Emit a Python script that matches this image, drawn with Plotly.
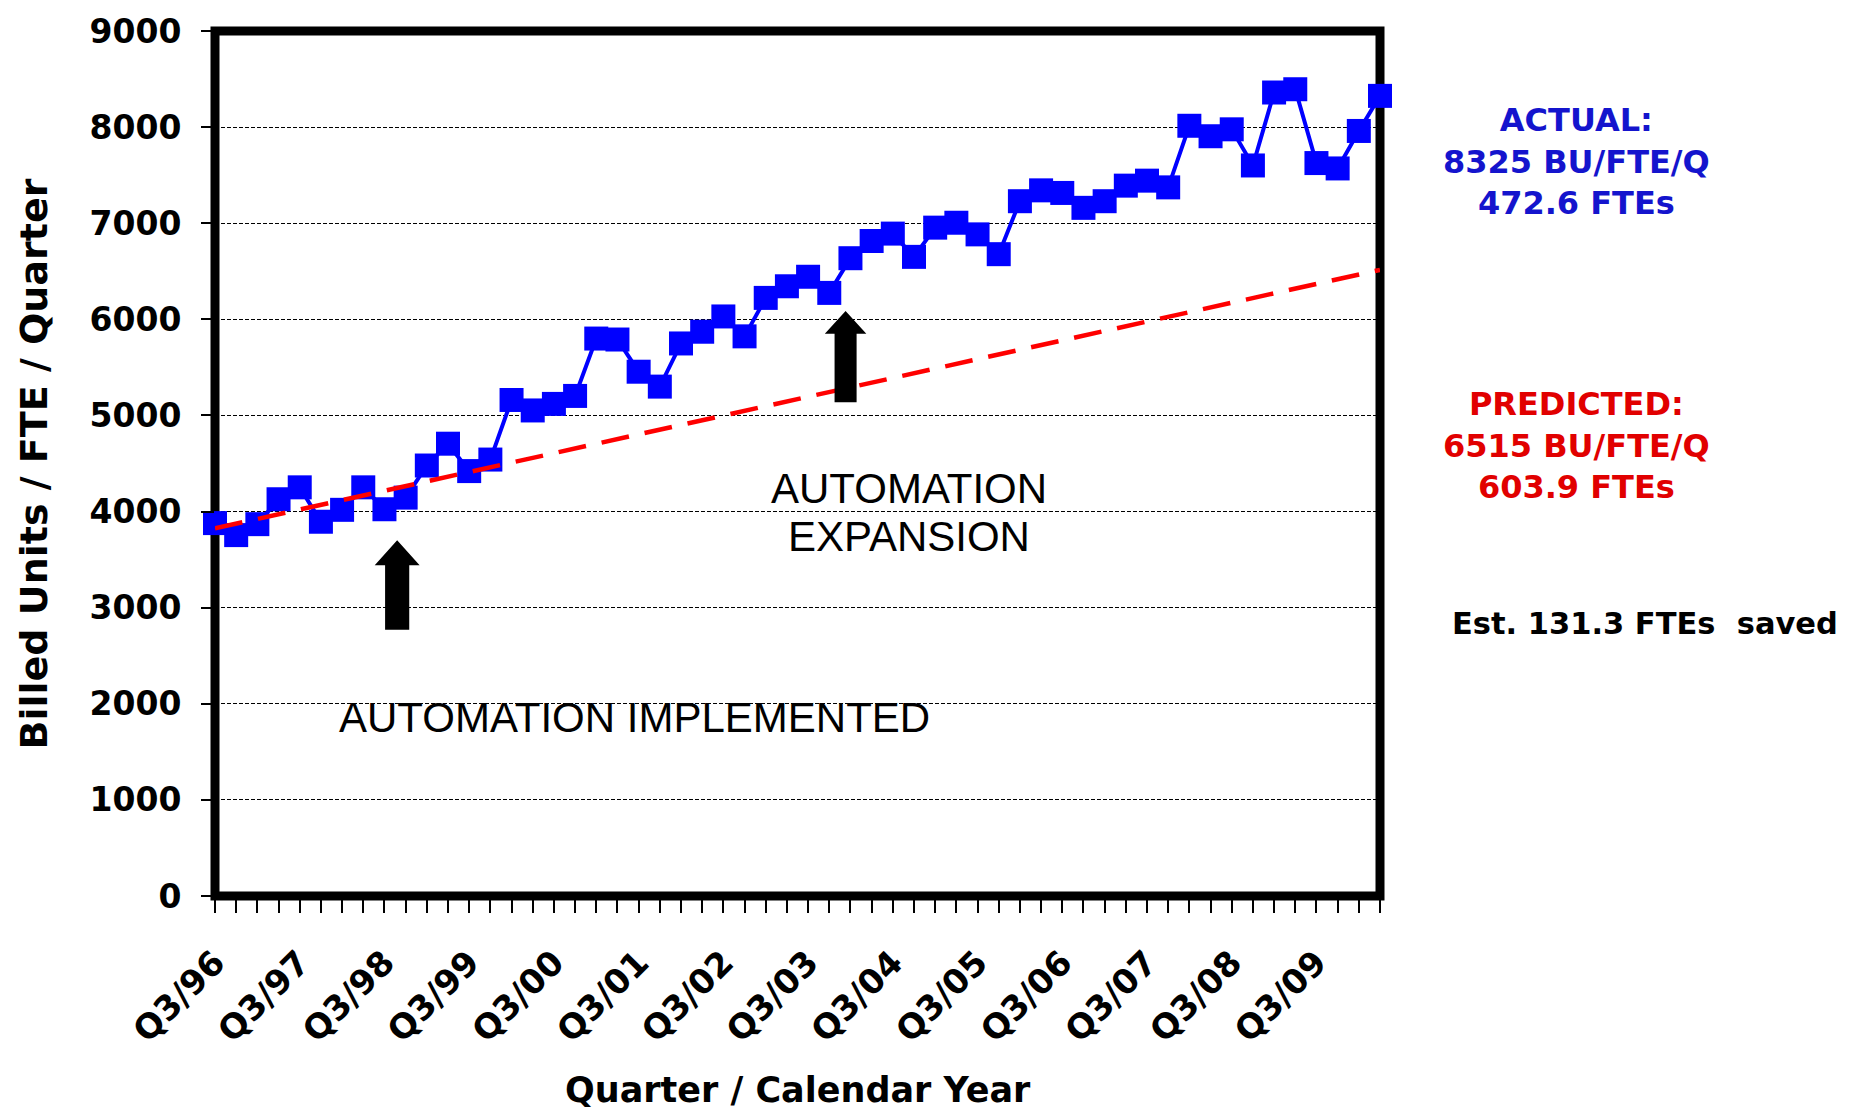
import plotly.graph_objects as go

# ---- data -------------------------------------------------------------
QUARTERS = [
    "Q3/96", "Q4/96",
    "Q1/97", "Q2/97", "Q3/97", "Q4/97",
    "Q1/98", "Q2/98", "Q3/98", "Q4/98",
    "Q1/99", "Q2/99", "Q3/99", "Q4/99",
    "Q1/00", "Q2/00", "Q3/00", "Q4/00",
    "Q1/01", "Q2/01", "Q3/01", "Q4/01",
    "Q1/02", "Q2/02", "Q3/02", "Q4/02",
    "Q1/03", "Q2/03", "Q3/03", "Q4/03",
    "Q1/04", "Q2/04", "Q3/04", "Q4/04",
    "Q1/05", "Q2/05", "Q3/05", "Q4/05",
    "Q1/06", "Q2/06", "Q3/06", "Q4/06",
    "Q1/07", "Q2/07", "Q3/07", "Q4/07",
    "Q1/08", "Q2/08", "Q3/08", "Q4/08",
    "Q1/09", "Q2/09", "Q3/09", "Q4/09",
    "Q1/10", "Q2/10",
]

# billed units per FTE per quarter (actual)
ACTUAL_BU = [
    3880, 3755, 3869, 4128, 4252, 3894, 4018, 4252, 4024, 4145,
    4479, 4706, 4421, 4541, 5161, 5052, 5120, 5203, 5800, 5790,
    5455, 5300, 5749, 5871, 6030, 5823, 6223, 6344, 6443, 6275,
    6636, 6815, 6892, 6650, 6954, 7005, 6884, 6678, 7229, 7342,
    7315, 7160, 7229, 7391, 7443, 7373, 8014, 7905, 7977, 7601,
    8360, 8394, 7626, 7570, 7960, 8325,
]

# straight-line prediction without automation (end points)
PREDICTED_QUARTERS = ["Q3/96", "Q2/10"]
PREDICTED_BU = [3825, 6515]

Y_TICKS = [0, 1000, 2000, 3000, 4000, 5000, 6000, 7000, 8000, 9000]

# ---- styling ----------------------------------------------------------
BOLD = "DejaVu Sans"
PLAIN = "Liberation Sans, Arial, sans-serif"
BLUE = "rgb(0,0,255)"
RED = "rgb(255,0,0)"
TEXT_BLUE = "rgb(20,20,205)"
TEXT_RED = "rgb(225,0,0)"

index_of = {q: i for i, q in enumerate(QUARTERS)}
x_actual = [index_of[q] for q in QUARTERS]
x_pred = [index_of[q] for q in PREDICTED_QUARTERS]
tick_text = [q if q.startswith("Q3") else "" for q in QUARTERS]

fig = go.Figure()

fig.add_trace(go.Scatter(
    x=x_actual, y=ACTUAL_BU, mode="lines+markers",
    line=dict(color=BLUE, width=4),
    marker=dict(symbol="square", size=24, color=BLUE),
    cliponaxis=False, showlegend=False, name="Actual",
))

fig.add_trace(go.Scatter(
    x=x_pred, y=PREDICTED_BU, mode="lines",
    line=dict(color=RED, width=4.5, dash="28px,16px"),
    showlegend=False, name="Predicted",
))

# block arrows marking the automation milestones
ARROWS = [
    dict(x=8.6, tip=3701, neck=3442, tail=2770, shaft=0.57, head=1.06),
    dict(x=29.77, tip=6088, neck=5851, tail=5138, shaft=0.52, head=0.98),
]


def arrow_path(a):
    xc = a["x"]
    pts = [
        (xc - a["shaft"], a["tail"]), (xc - a["shaft"], a["neck"]),
        (xc - a["head"], a["neck"]), (xc, a["tip"]),
        (xc + a["head"], a["neck"]), (xc + a["shaft"], a["neck"]),
        (xc + a["shaft"], a["tail"]),
    ]
    return "M " + " L ".join(f"{px},{py}" for px, py in pts) + " Z"


shapes = [
    dict(type="path", xref="x", yref="y", path=arrow_path(a),
         fillcolor="black", line=dict(color="black", width=0), layer="above")
    for a in ARROWS
]
# heavy frame around the plotting area
shapes.append(dict(type="rect", xref="paper", yref="paper", x0=0, x1=1, y0=0, y1=1,
                   line=dict(color="black", width=9), layer="below"))


def note(text, x, y, xref="paper", yref="paper", font=None, **kw):
    return dict(text=text, x=x, y=y, xref=xref, yref=yref, showarrow=False,
                xanchor=kw.pop("xanchor", "center"), yanchor="middle",
                font=font, **kw)


plain_font = dict(family=PLAIN, size=42, color="black")
annotations = [
    note("AUTOMATION", 32.75, 4238, "x", "y", plain_font),
    note("EXPANSION", 32.75, 3742, "x", "y", plain_font),
    note("AUTOMATION IMPLEMENTED", 19.8, 1861, "x", "y", plain_font),
    note("ACTUAL:<br>8325 BU/FTE/Q<br>472.6 FTEs", 1.169, 0.849,
         font=dict(family=BOLD, size=32, color=TEXT_BLUE, weight="bold"),
         align="center"),
    note("PREDICTED:<br>6515 BU/FTE/Q<br>603.9 FTEs", 1.169, 0.5206,
         font=dict(family=BOLD, size=32, color=TEXT_RED, weight="bold"),
         align="center"),
    note("Est. 131.3 FTEs  saved", 1.0605, 0.3146, xanchor="left",
         font=dict(family=BOLD, size=30.5, color="black", weight="bold")),
    note("Billed Units / FTE / Quarter", -0.1554, 0.5, textangle=-90,
         font=dict(family=BOLD, size=38, color="black", weight="bold")),
    note("Quarter / Calendar Year", 0.5, -0.2239,
         font=dict(family=BOLD, size=35, color="black", weight="bold")),
]

fig.update_layout(
    width=1850, height=1111,
    margin=dict(l=215, r=470, t=25, b=215),
    paper_bgcolor="white", plot_bgcolor="white",
    shapes=shapes, annotations=annotations,
    xaxis=dict(
        range=[0, len(QUARTERS) - 1], showgrid=False, zeroline=False, showline=False,
        tickmode="array", tickvals=x_actual, ticktext=tick_text, tickangle=-45,
        ticks="outside", ticklen=16, tickwidth=2, tickcolor="black",
        ticklabelstandoff=16,
        tickfont=dict(family=BOLD, size=34, color="black", weight="bold"),
    ),
    yaxis=dict(
        range=[0, 9000], tickmode="array", tickvals=Y_TICKS,
        showgrid=True, gridcolor="black", gridwidth=1.2, griddash="4px,2px",
        zeroline=False, showline=False,
        ticks="outside", ticklen=13, tickwidth=2, tickcolor="black",
        ticklabelstandoff=13,
        tickfont=dict(family=BOLD, size=33, color="black", weight="bold"),
    ),
)

fig.write_html("out.html")
